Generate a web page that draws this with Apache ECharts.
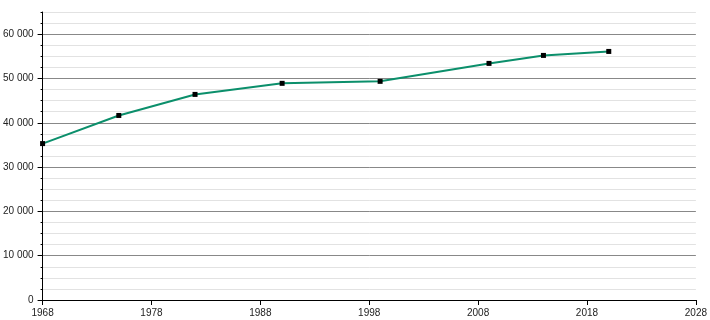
<!DOCTYPE html>
<html><head><meta charset="utf-8">
<script src="https://cdn.jsdelivr.net/npm/echarts@6/dist/echarts.min.js"></script>
<style>html,body{margin:0;padding:0;background:#fff}#c{width:710px;height:320px}</style>
</head><body><div id="c"></div>
<script>
const years = [1968, 1975, 1982, 1990, 1999, 2009, 2014, 2020];
const population = [35300, 41650, 46400, 48900, 49350, 53400, 55200, 56100];
const xTicks = [1968, 1978, 1988, 1998, 2008, 2018, 2028];
const yTicks = [0, 10000, 20000, 30000, 40000, 50000, 60000];
const yMax = 65000;

const fmt = v => String(v).replace(/\B(?=(\d{3})+(?!\d))/g, ' ');
const font = 'Liberation Sans, Arial, sans-serif';
const chart = echarts.init(document.getElementById('c'), null, {renderer: 'canvas'});
chart.setOption({
  animation: false,
  grid: {left: 42, right: 11, top: 12, bottom: 20, containLabel: false},
  xAxis: {
    type: 'value', min: xTicks[0], max: xTicks[xTicks.length - 1], interval: 10,
    axisLine: {show: true, onZero: false, lineStyle: {color: '#000', width: 1}},
    axisTick: {show: true, length: 5, lineStyle: {color: '#000'}},
    axisLabel: {color: '#222', fontSize: 10, fontFamily: font, margin: 8,
      formatter: v => String(v)},
    splitLine: {show: false}
  },
  yAxis: [{
    type: 'value', min: 0, max: yMax, interval: 2500,
    axisLine: {show: true, onZero: false, lineStyle: {color: '#000', width: 1}},
    axisTick: {show: true, length: 2, lineStyle: {color: '#000'}},
    axisLabel: {show: false},
    splitLine: {show: true, lineStyle: {color: ['rgba(0,0,0,0)', '#e2e2e2', '#e2e2e2', '#e2e2e2'], width: 1}}
  }, {
    type: 'value', min: 0, max: yMax, interval: 10000, position: 'left',
    axisLine: {show: false},
    axisTick: {show: true, length: 5, customValues: yTicks, lineStyle: {color: '#000'}},
    axisLabel: {color: '#222', fontSize: 10, fontFamily: font, margin: 9,
      formatter: v => yTicks.indexOf(v) >= 0 ? fmt(v) : ''},
    splitLine: {show: true, lineStyle: {color: ['#888888', '#888888', '#888888', '#888888', '#888888', '#888888', '#888888', 'rgba(0,0,0,0)'], width: 1}}
  }],
  series: [{
    type: 'line',
    yAxisIndex: 1,
    data: years.map((y, i) => [y, population[i]]),
    lineStyle: {color: '#0b8f6b', width: 2},
    itemStyle: {color: '#000'},
    symbol: 'rect', symbolSize: 5, showSymbol: true
  }]
});
</script></body></html>
